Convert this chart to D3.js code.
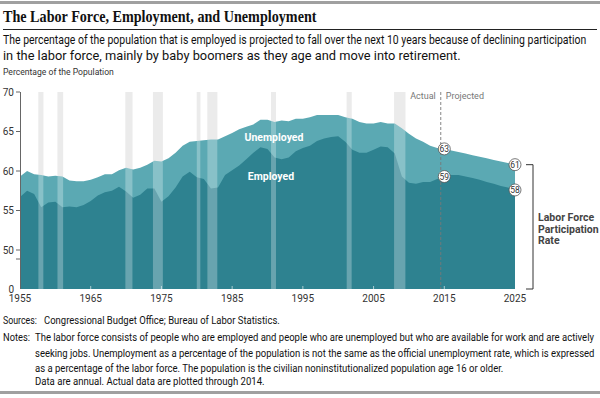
<!DOCTYPE html>
<html><head><meta charset="utf-8">
<script src="https://cdn.jsdelivr.net/npm/d3@7"></script>
<style>
html,body{margin:0;padding:0;background:#fff;}
svg text{font-family:"Roboto","Liberation Sans",sans-serif;}
</style></head>
<body>
<svg id="chart" width="600" height="398"></svg>
<script>
// ---- data ----
const years = d3.range(1955, 2026);
const laborForce = [59.3,60.0,59.6,59.5,59.3,59.4,59.3,58.8,58.7,58.7,58.9,59.2,59.6,59.6,60.1,60.4,60.2,60.4,60.8,61.3,61.2,61.6,62.3,63.2,63.7,63.8,63.9,64.0,64.0,64.4,64.8,65.3,65.6,65.9,66.5,66.5,66.2,66.4,66.3,66.6,66.6,66.8,67.1,67.1,67.1,67.1,66.8,66.6,66.2,66.0,66.0,66.2,66.0,66.0,65.4,64.7,64.1,63.7,63.2,62.9,
  62.8,62.6,62.4,62.2,62.0,61.8,61.6,61.4,61.2,61.0,60.8];
const employed = [56.7,57.5,57.1,55.4,56.0,56.1,55.4,55.5,55.4,55.7,56.2,56.9,57.3,57.5,58.0,57.4,56.6,57.0,57.8,57.8,56.1,56.8,57.9,59.3,59.9,59.2,59.0,57.8,57.9,59.5,60.1,60.7,61.5,62.3,63.0,62.8,61.7,61.5,61.7,62.5,62.9,63.2,63.8,64.1,64.3,64.4,63.7,62.7,62.3,62.3,62.7,63.1,63.0,62.2,59.3,58.5,58.4,58.6,58.6,59.0,
  59.3,59.5,59.5,59.3,59.1,58.9,58.6,58.4,58.1,57.9,57.6];
const recessions = [[1957.6,1958.3],[1960.3,1961.1],[1969.9,1970.9],[1973.8,1975.2],[1980.0,1980.5],[1981.5,1982.9],[1990.5,1991.2],[2001.2,2001.9],[2007.9,2009.5]];
const yTicks = [0,50,55,60,65,70];
const xTicks = [1955,1965,1975,1985,1995,2005,2015,2025];
const callouts = [{year:2015,value:62.8,label:"63"},{year:2015,value:59.3,label:"59"},{year:2025,value:60.8,label:"61"},{year:2025,value:57.6,label:"58"}];
const projectionStart = 2014.5;

const title = "The Labor Force, Employment, and Unemployment";
const subtitle = ["The percentage of the population that is employed is projected to fall over the next 10 years because of declining participation",
  "in the labor force, mainly by baby boomers as they age and move into retirement."];
const notes = ["The labor force consists of people who are employed and people who are unemployed but who are available for work and are actively",
  "seeking jobs. Unemployment as a percentage of the population is not the same as the official unemployment rate, which is expressed",
  "as a percentage of the labor force. The population is the civilian noninstitutionalized population age 16 or older."];

const data = years.map((y,i)=>({year:y, lf:laborForce[i], emp:employed[i]}));

const svg = d3.select("#chart");
const x = d3.scaleLinear().domain([1955,2025]).range([20,515]);
const y = d3.scaleLinear().domain([0,50,70]).range([289,250,92]);

const dark = "#2e8290", light = "#5ba9b3", txt = "#333";

// condensed text helper: squeezes text horizontally to a target width
function fit(parent, xx, yy, target, s, size, opts={}){
  const g = parent.append("g").attr("transform",`translate(${xx},${yy})`);
  const t = g.append("text").attr("font-size",size).attr("fill",opts.fill||"#111").text(s);
  if(opts.weight) t.attr("font-weight",opts.weight);
  if(opts.family) t.style("font-family",opts.family);
  const w = t.node().getComputedTextLength();
  const k = target / w;
  g.attr("transform",`translate(${xx},${yy}) scale(${k},1)`);
  return t;
}

// frame bars
svg.append("rect").attr("x",0).attr("y",1).attr("width",600).attr("height",3).attr("fill","#a0a0a0");
svg.append("rect").attr("x",0).attr("y",391).attr("width",600).attr("height",3).attr("fill","#a0a0a0");

// title
fit(svg,3,22,314,title,17,{weight:"bold",family:"'Liberation Serif','DejaVu Serif',serif"});
svg.append("line").attr("x1",3).attr("x2",597).attr("y1",29.5).attr("y2",29.5).attr("stroke","#222").attr("stroke-width",1);

subtitle.forEach((s,i)=>{ fit(svg,3,44+i*15.5, i===0?584:458, s, 12.5); });
fit(svg,3,75,111,"Percentage of the Population",9.5,{fill:txt});

// recession bars (grey, behind areas)
svg.append("g").selectAll("rect").data(recessions).join("rect")
  .attr("x",d=>x(d[0])).attr("width",d=>x(d[1])-x(d[0]))
  .attr("y",y(70)).attr("height",y(0)-y(70))
  .attr("fill","#e4e4e4");

// areas
const areaLF = d3.area().x(d=>x(d.year)).y0(y(0)).y1(d=>y(d.lf));
const areaEmp = d3.area().x(d=>x(d.year)).y0(y(0)).y1(d=>y(d.emp));
svg.append("path").datum(data).attr("d",areaLF).attr("fill",light);
svg.append("path").datum(data).attr("d",areaEmp).attr("fill",dark);

// recession bars (white veil on top of areas)
svg.append("g").selectAll("rect").data(recessions).join("rect")
  .attr("x",d=>x(d[0])).attr("width",d=>x(d[1])-x(d[0]))
  .attr("y",y(70)).attr("height",y(0)-y(70))
  .attr("fill","#fff").attr("opacity",0.28);

// x axis tiny ticks (white, inside area)
svg.append("g").selectAll("line").data(xTicks.slice(1,-1)).join("line")
  .attr("x1",d=>x(d)).attr("x2",d=>x(d)).attr("y1",y(0)-3).attr("y2",y(0))
  .attr("stroke","#fff").attr("stroke-opacity",0.6);

// y axis
svg.append("line").attr("x1",20.5).attr("x2",20.5).attr("y1",y(70)).attr("y2",y(0)).attr("stroke","#666");
const yg = svg.append("g");
yTicks.forEach(v=>{
  if(v!==0) yg.append("line").attr("x1",16).attr("x2",20).attr("y1",y(v)).attr("y2",y(v)).attr("stroke","#666");
  yg.append("text").attr("x",14).attr("y",y(v)+3.5).attr("text-anchor","end").attr("font-size",10).attr("fill",txt).text(v);
});
yg.append("line").attr("x1",16).attr("x2",20).attr("y1",y(50)+9).attr("y2",y(50)+9).attr("stroke","#666");

// x labels
svg.append("g").selectAll("text").data(xTicks).join("text")
  .attr("x",d=>x(d)).attr("y",302).attr("text-anchor","middle").attr("font-size",10).attr("fill",txt).text(d=>d);

// projection line
svg.append("line").attr("x1",x(projectionStart)).attr("x2",x(projectionStart)).attr("y1",y(70)).attr("y2",y(0))
  .attr("stroke","#777").attr("stroke-dasharray","3,2").attr("stroke-width",0.9);
svg.append("text").attr("x",x(projectionStart)-5).attr("y",99).attr("text-anchor","end").attr("font-size",9).attr("fill","#777").text("Actual");
svg.append("text").attr("x",x(projectionStart)+5).attr("y",99).attr("font-size",9).attr("fill","#777").text("Projected");

// series labels
svg.append("text").attr("x",274).attr("y",141).attr("text-anchor","middle").attr("font-size",10.5).attr("font-weight","bold").attr("fill","#fff").text("Unemployed");
svg.append("text").attr("x",271).attr("y",180).attr("text-anchor","middle").attr("font-size",10.5).attr("font-weight","bold").attr("fill","#fff").text("Employed");

// callouts
const cg = svg.append("g").selectAll("g").data(callouts).join("g")
  .attr("transform",d=>`translate(${x(d.year)},${y(d.value)})`);
cg.append("circle").attr("r",6).attr("fill","#fff").attr("stroke","#555").attr("stroke-width",0.8);
cg.append("text").attr("text-anchor","middle").attr("y",3).attr("font-size",8.5).attr("fill","#333").text(d=>d.label);

// bracket
const bx = 533;
svg.append("path").attr("d",`M${bx-7},${y(60.8)}H${bx}V${y(0)}H${bx-7}`).attr("fill","none").attr("stroke","#333").attr("stroke-width",1);
["Labor Force","Participation","Rate"].forEach((s,i)=>{
  svg.append("text").attr("x",538).attr("y",221+i*11.5).attr("font-size",10.5).attr("font-weight","bold").attr("fill","#444").text(s);
});

// sources & notes
fit(svg,3,324,34,"Sources:",11);
fit(svg,44,324,236,"Congressional Budget Office; Bureau of Labor Statistics.",11);
fit(svg,3,341,27,"Notes:",11);
const nl = [560,560,469];
notes.forEach((s,i)=>{ fit(svg,35,341+i*15.5,nl[i],s,11); });
fit(svg,35,385,230,"Data are annual. Actual data are plotted through 2014.",11);
</script>
</body></html>
